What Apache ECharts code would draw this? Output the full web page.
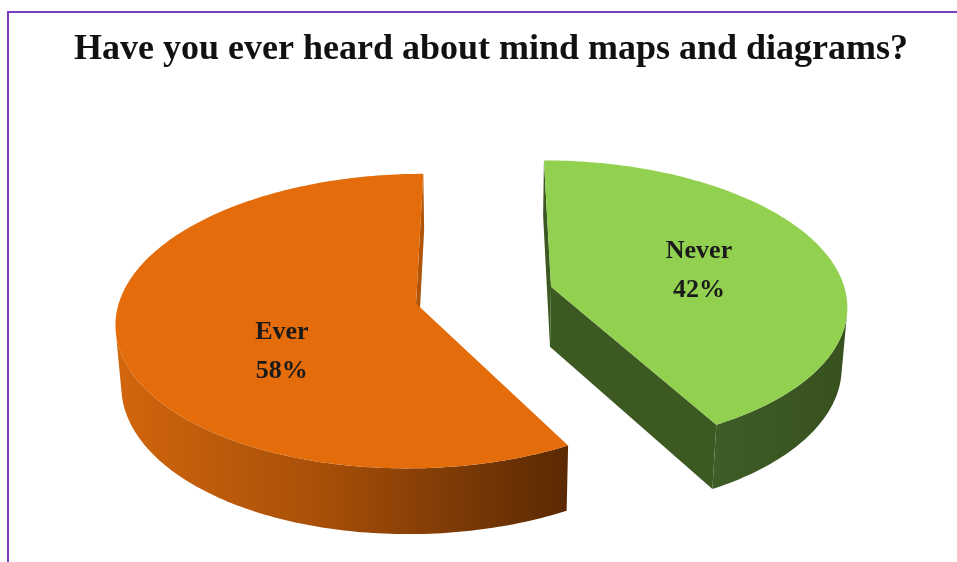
<!DOCTYPE html>
<html>
<head>
<meta charset="utf-8">
<script src="https://cdn.jsdelivr.net/npm/echarts@6/dist/echarts.min.js"></script>
<style>
  html, body { margin: 0; padding: 0; background: #ffffff; }
  #chart { width: 957px; height: 562px; }
</style>
</head>
<body>
<div id="chart"></div>
<script>
// Slices in drawing order, clockwise from 12 o'clock
const categories = ['Never', 'Ever'];
const shares = [42, 58];
const titleText = 'Have you ever heard about mind maps and diagrams?';

// Look of each slice (top face, curved wall, cut faces) and label nudges
const sliceStyle = {
  Never: {
    top: '#92D050',
    wall: ['#3E5D27', '#3B5722', '#37511F'],
    cut: '#3D5922',
    labelShift: [9, 1]
  },
  Ever: {
    top: '#E46C0A',
    wall: ['#D2660D', '#A84F08', '#5A2904'],
    cut: '#B0540A',
    labelShift: [13, 30]
  }
};

// Simple perspective camera for the tilted pie
const view = {
  cx: 484, cy: 295,       // screen point the camera looks at
  F: 2170,                // focal length in pixels
  D: 7.35,                // camera distance, in pie radii
  tilt: 29 * Math.PI / 180,
  thick: 0.237,           // wall height, in pie radii
  explode: 0.236,         // slice pull-out, in pie radii
  labelRadius: 0.5
};
const sT = Math.sin(view.tilt), cT = Math.cos(view.tilt);
const cam = [0, view.D * sT, view.D * cT];

function project(x, y, z) {
  const d = view.D - (y * sT + z * cT);
  const up = y * cT - z * sT;
  return [view.cx + view.F * x / d, view.cy - view.F * up / d];
}
function facing(p, n) {
  return n[0] * (cam[0] - p[0]) + n[1] * (cam[1] - p[1]) + n[2] * (cam[2] - p[2]) > 0;
}

const total = shares.reduce((a, b) => a + b, 0);

function renderSlice(params, api) {
  const i = params.dataIndex;
  const name = categories[i];
  const st = sliceStyle[name];
  let before = 0;
  for (let k = 0; k < i; k++) before += shares[k];
  const a0 = before / total * 2 * Math.PI;
  const a1 = (before + api.value(0)) / total * 2 * Math.PI;
  const mid = (a0 + a1) / 2;
  const ox = view.explode * Math.sin(mid);
  const oz = -view.explode * Math.cos(mid);
  const T = view.thick;
  const rim = (a, y) => [ox + Math.sin(a), y, oz - Math.cos(a)];

  const children = [];

  // cut faces along the two radii
  const cuts = [
    { a: a0, n: [-Math.cos(a0), 0, -Math.sin(a0)] },
    { a: a1, n: [Math.cos(a1), 0, Math.sin(a1)] }
  ];
  cuts.forEach(cf => {
    const e = rim(cf.a, 0);
    const pMid = [(ox + e[0]) / 2, -T / 2, (oz + e[2]) / 2];
    if (!facing(pMid, cf.n)) return;
    children.push({
      type: 'polygon',
      shape: { points: [
        project(ox, 0, oz), project(e[0], 0, e[2]),
        project(e[0], -T, e[2]), project(ox, -T, oz)
      ] },
      style: { fill: st.cut }
    });
  });

  // curved outer wall, only the part turned to the camera
  const steps = Math.max(8, Math.round((a1 - a0) / (Math.PI / 180)));
  let run = [];
  const runs = [];
  for (let s = 0; s <= steps; s++) {
    const a = a0 + (a1 - a0) * s / steps;
    const p = rim(a, -T / 2);
    if (facing(p, [Math.sin(a), 0, -Math.cos(a)])) {
      run.push(a);
    } else if (run.length) { runs.push(run); run = []; }
  }
  if (run.length) runs.push(run);
  runs.forEach(r => {
    const topPts = r.map(a => { const p = rim(a, 0); return project(p[0], 0, p[2]); });
    const botPts = r.slice().reverse().map(a => { const p = rim(a, -T); return project(p[0], -T, p[2]); });
    children.push({
      type: 'polygon',
      shape: { points: topPts.concat(botPts) },
      style: {
        fill: new echarts.graphic.LinearGradient(0, 0, 1, 0, [
          { offset: 0, color: st.wall[0] },
          { offset: 0.45, color: st.wall[1] },
          { offset: 1, color: st.wall[2] }
        ])
      }
    });
  });

  // top face
  const topFace = [project(ox, 0, oz)];
  for (let s = 0; s <= steps; s++) {
    const a = a0 + (a1 - a0) * s / steps;
    const p = rim(a, 0);
    topFace.push(project(p[0], 0, p[2]));
  }
  children.push({ type: 'polygon', shape: { points: topFace }, style: { fill: st.top } });

  // label: name and share
  const lp = project(ox + view.labelRadius * Math.sin(mid), 0, oz - view.labelRadius * Math.cos(mid));
  children.push({
    type: 'text',
    x: lp[0] + st.labelShift[0],
    y: lp[1] + st.labelShift[1],
    style: {
      text: name + '\n' + api.value(0) + '%',
      fontFamily: '"Liberation Serif", "Times New Roman", serif',
      fontWeight: 'bold',
      fontSize: 26,
      lineHeight: 39,
      fill: '#1a1a1a',
      align: 'center',
      verticalAlign: 'middle'
    }
  });

  return { type: 'group', children };
}

const chart = echarts.init(document.getElementById('chart'), null, { renderer: 'canvas' });
chart.setOption({
  backgroundColor: '#ffffff',
  animation: false,
  title: {
    text: titleText,
    left: 486,
    top: 27,
    textAlign: 'center',
    textStyle: {
      fontFamily: '"Liberation Serif", "Times New Roman", serif',
      fontWeight: 'bold',
      fontSize: 36,
      color: '#111111'
    }
  },
  graphic: [
    { type: 'line', shape: { x1: 7, y1: 12, x2: 957, y2: 12 }, style: { stroke: '#7D3FBF', lineWidth: 2 } },
    { type: 'line', shape: { x1: 8, y1: 11, x2: 8, y2: 562 }, style: { stroke: '#7D3FBF', lineWidth: 2 } }
  ],
  series: [{
    type: 'custom',
    coordinateSystem: 'none',
    renderItem: renderSlice,
    data: shares.map(v => [v])
  }]
});
</script>
</body>
</html>
